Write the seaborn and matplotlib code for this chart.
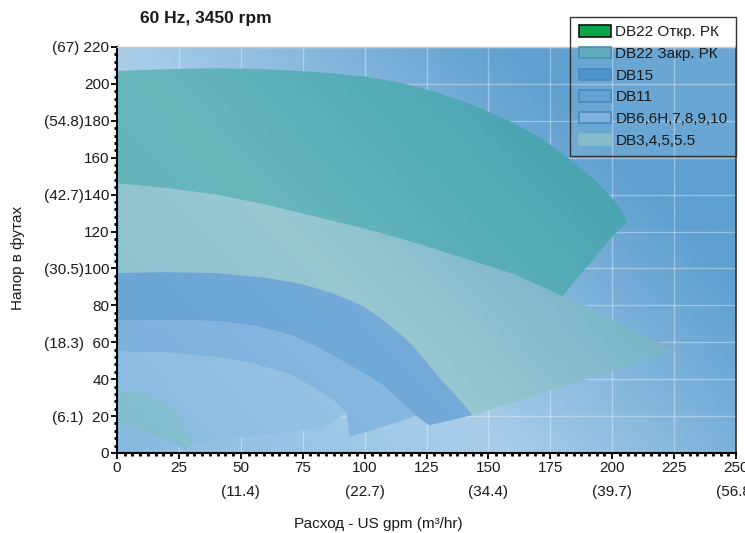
import numpy as np
import matplotlib
matplotlib.use("Agg")
import matplotlib.pyplot as plt
import seaborn as sns
from matplotlib.patches import Polygon, Patch
from matplotlib.ticker import MultipleLocator
from matplotlib.colors import to_rgb

# ---------------- data ----------------
title = "60 Hz, 3450 rpm"
x_label = "Расход - US gpm (m³/hr)"
y_label = "Напор в футах"

x_ticks = [0, 25, 50, 75, 100, 125, 150, 175, 200, 225, 250]
x_tick_labels = ["0", "25", "50\n(11.4)", "75", "100\n(22.7)", "125",
                 "150\n(34.4)", "175", "200\n(39.7)", "225", "250\n(56.8)"]
y_ticks = [0, 20, 40, 60, 80, 100, 120, 140, 160, 180, 200, 220]
y_tick_labels = ["0", "(6.1)  20", "40", "(18.3)  60", "80", "(30.5)100", "120",
                 "(42.7)140", "160", "(54.8)180", "200", "(67) 220"]

series_names = ["DB22 Откр. РК", "DB22 Закр. РК", "DB15", "DB11",
                "DB6,6H,7,8,9,10", "DB3,4,5,5.5"]

# region outlines (flow gpm, head ft)
db22_open_q = [0, 20, 40, 60, 80, 100, 115, 130, 145, 160, 172, 183, 193, 200, 204, 206,
               199, 193, 186, 180,
               170, 160, 140, 120, 100, 80, 60, 40, 20, 0]
db22_open_h = [207, 208, 208.5, 208, 206.5, 204, 200.5, 195, 188, 179, 170, 159, 148, 138, 131, 125,
               116, 106, 95, 85,
               91, 97, 105.5, 114, 121.5, 128, 134.5, 140, 143.5, 146]

db22_closed_q = [0, 20, 40, 60, 80, 100, 120, 140, 160, 170, 180, 190, 202, 214, 226,
                 185, 143.5,
                 137, 130, 124, 118, 113, 106, 100, 94, 86, 75, 60, 40, 20, 0]
db22_closed_h = [146, 143.5, 140, 134.5, 128, 121.5, 114, 105.5, 97, 91, 85, 79.5, 71, 63, 56,
                 38, 20.6,
                 31, 41, 51, 60, 66, 73.5, 79, 83, 87, 91.5, 95, 97.5, 98, 97.5]

db15_q = [0, 20, 40, 60, 75, 86, 94, 100, 106, 113, 118, 124, 130, 137, 143.5,
          126, 121, 116, 108, 100, 92, 80, 70, 55, 40, 20, 0]
db15_h = [97.5, 98, 97.5, 95, 91.5, 87, 83, 79, 73.5, 66, 60, 51, 41, 31, 20.6,
          15, 20, 26, 36, 43, 49, 58, 64, 69, 71.5, 72, 72]

db11_q = [0, 20, 40, 55, 70, 80, 92, 100, 108, 116, 121,
          94, 92.7, 88, 80, 70, 55, 40, 20, 0]
db11_h = [72, 72, 71.5, 69, 64, 58, 49, 43, 36, 26, 20,
          8.7, 21.7, 28, 35, 42.5, 48.5, 52, 54.5, 55]

db6_q = [0, 20, 40, 55, 70, 80, 88, 92.7, 82, 50, 25, 0]
db6_h = [55, 54.5, 52, 48.5, 42.5, 35, 28, 21.7, 13, 8.7, 4, 0]

db3_q = [0, 8, 15, 20, 24, 27, 29, 30.6, 27.4, 24, 20, 14, 7, 0]
db3_h = [34, 33, 30.5, 27, 22.5, 17, 12, 5.4, 1.6, 4.5, 7.5, 10.5, 13.5, 16]

# ---------------- style ----------------
sns.set_theme(style="white")
plt.rcParams['font.family'] = ['Liberation Sans Narrow', 'Liberation Sans', 'DejaVu Sans']

fig = plt.figure(figsize=(7.45, 5.33), dpi=100, facecolor="white")
ax = fig.add_axes([117 / 745, 1 - 453 / 533, (736 - 117) / 745, (453 - 47) / 533])

xmax, ymax = 250, 220
ax.set_xlim(0, xmax)
ax.set_ylim(0, ymax)

# background gradient (decoration)
nx, ny = 300, 260
u = np.linspace(0, 1, nx)[None, :]
v = np.linspace(0, 1, ny)[:, None]
s = (u + (v - 1) * 0.62) / 1.177
light = np.array(to_rgb("#a9cde9"))
dark = np.array(to_rgb("#5e9fd0"))
mid = np.array(to_rgb("#8abbe0"))
tpos = np.clip(s / 0.55, 0, 1)[..., None]
tneg = np.clip(-s / 0.55, 0, 1)[..., None]
bg = light * (1 - tpos) + dark * tpos
bg = bg * (1 - tneg) + mid * tneg
bg = np.clip(bg, 0, 1)
ext = (0, xmax, 0, ymax)
ax.imshow(bg, extent=ext, origin="lower", aspect="auto", zorder=0, interpolation="bilinear")

ax.set_xticks(x_ticks)
ax.set_yticks(y_ticks)
ax.set_axisbelow(True)
ax.grid(True, which="major", color="white", alpha=0.35, lw=1.0)

regions = [
    (db22_open_q, db22_open_h, "#2fa594", 0.53),
    (db22_closed_q, db22_closed_h, "#7fc0b0", 0.40),
    (db15_q, db15_h, "#3a85c5", 0.48),
    (db11_q, db11_h, "#5a9bd2", 0.40),
    (db6_q, db6_h, "#80b5e0", 0.30),
    (db3_q, db3_h, "#6fc0b0", 0.35),
]
for i, (q, h, col, a) in enumerate(regions):
    poly = Polygon(np.column_stack([q, h]), closed=True, transform=ax.transData)
    im = ax.imshow(bg, extent=ext, origin="lower", aspect="auto",
                   zorder=1 + i * 0.01, interpolation="bilinear")
    im.set_clip_path(poly)
    ax.fill(q, h, color=col, alpha=a, lw=0, zorder=1.005 + i * 0.01)

ax.set_xlim(0, xmax)
ax.set_ylim(0, ymax)

# ticks
ax.set_xticklabels(x_tick_labels)
ax.set_yticklabels(y_tick_labels)
for lbl in ax.get_xticklabels():
    lbl.set_linespacing(1.9)
ax.xaxis.set_minor_locator(MultipleLocator(25 / 8))
ax.yaxis.set_minor_locator(MultipleLocator(4))
ax.tick_params(axis="both", which="major", direction="out", length=4, width=1.3,
               color="black", labelsize=11, labelcolor="#1a1a1a", pad=1.5,
               bottom=True, left=True)
ax.tick_params(axis="both", which="minor", direction="out", length=2, width=2,
               color="black", bottom=True, left=True)

for side in ["left", "bottom"]:
    ax.spines[side].set_color("black")
    ax.spines[side].set_linewidth(1.5)
ax.spines["top"].set_color("#c8c8c8")
ax.spines["top"].set_linewidth(1.0)
ax.spines["right"].set_color("#333333")
ax.spines["right"].set_linewidth(1.2)
for sp in ax.spines.values():
    sp.set_zorder(5)

# labels / title
fig.text(140 / 745, 1 - 18 / 533, title, fontsize=12.5, fontweight="bold",
         ha="left", va="center", color="#1a1a1a")
fig.text(18 / 745, 1 - 258 / 533, y_label, rotation=90, fontsize=11,
         ha="center", va="center", color="#1a1a1a")
fig.text(378 / 745, 1 - 524 / 533, x_label, fontsize=11,
         ha="center", va="center", color="#1a1a1a")

# legend
legend_face = ["#08a84a", "#62abbd", "#4f94cc", "#64a1d3", "#80b4dd", "#85bccb"]
legend_edge = ["#111111", "#4b8fae", "#4a88b8", "#4a88b8", "#4a88b8", "#85bccb"]
handles = [Patch(facecolor=fc, edgecolor=ec, lw=1.2, label=nm)
           for fc, ec, nm in zip(legend_face, legend_edge, series_names)]
leg = fig.legend(handles=handles, loc="upper right", bbox_to_anchor=(736 / 745, 1 - 17 / 533),
                 frameon=True, fancybox=False, fontsize=11, handlelength=2.1,
                 handleheight=0.75, handletextpad=0.3, labelspacing=0.5,
                 borderpad=0.55, borderaxespad=0)
frame = leg.get_frame()
frame.set_alpha(None)
frame.set_facecolor((1, 1, 1, 0.08))
frame.set_edgecolor("#333333")
frame.set_linewidth(1.0)
for t in leg.get_texts():
    t.set_color("#1a1a1a")

fig.savefig("out.png", dpi=100, facecolor="white")
